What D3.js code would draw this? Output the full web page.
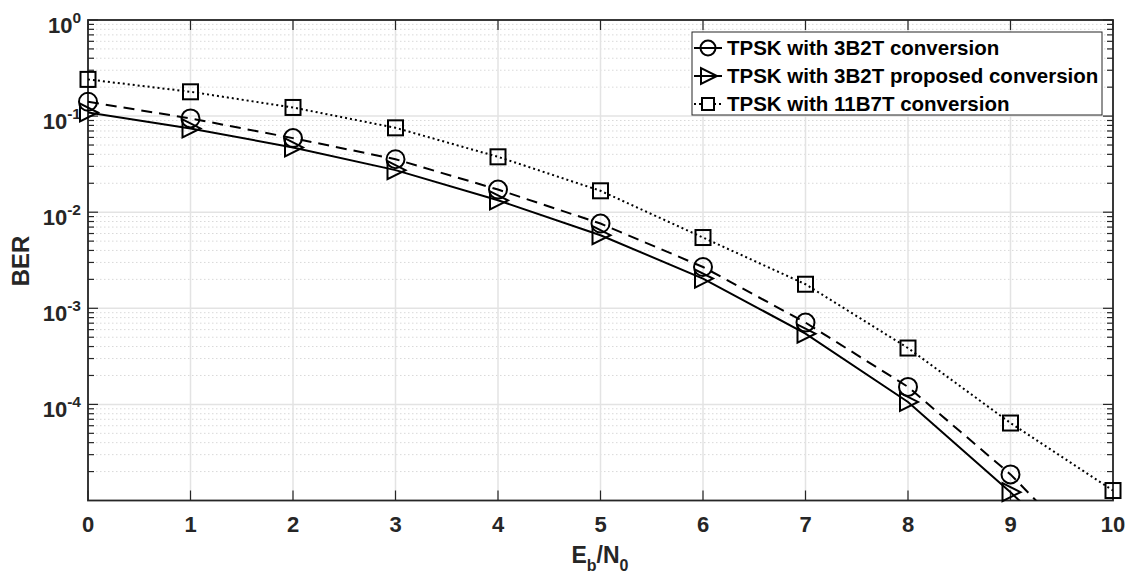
<!DOCTYPE html>
<html><head><meta charset="utf-8">
<script src="https://cdn.jsdelivr.net/npm/d3@7"></script>
<style>body{margin:0;background:#fff;} svg{display:block;font-family:"Liberation Sans",Arial,sans-serif;font-weight:bold;}</style>
</head><body><svg id="c" width="1135" height="580"></svg>
<script>
const ebn0 = [0,1,2,3,4,5,6,7,8,9,10];
const ber3B2T = [0.141,0.0946,0.059,0.0356,0.0172,0.00762,0.00269,0.00071,0.000152,1.87e-5,1.5e-6];
const ber3B2TProposed = [0.109,0.0744,0.0472,0.0274,0.0133,0.00576,0.00204,0.000545,0.000106,1.22e-5,1.2e-6];
const ber11B7T = [0.241,0.179,0.123,0.0755,0.0377,0.0167,0.00545,0.00178,0.000386,6.4e-5,1.27e-5];
const seriesNames = ["TPSK with 3B2T conversion","TPSK with 3B2T proposed conversion","TPSK with 11B7T conversion"];
const xTicks = [0,1,2,3,4,5,6,7,8,9,10];
const yTickExps = [0,-1,-2,-3,-4];

const L=88,R=1113,T=20,B=500.5;
const svg=d3.select("#c");
const x=d3.scaleLinear().domain([0,10]).range([L,R]);
const y=d3.scaleLog().domain([1e-5,1]).range([B,T]);
const axisCol="#262626";

// minor grid
const minors=[];
for(let e=-5;e<0;e++) for(let m=2;m<=9;m++) minors.push(m*Math.pow(10,e));
svg.append("g").selectAll("line").data(minors).join("line")
 .attr("x1",L).attr("x2",R).attr("y1",d=>y(d)).attr("y2",d=>y(d))
 .attr("stroke","#d9d9d9").attr("stroke-width",1).attr("stroke-dasharray","1.5,2.5");
// major grid
svg.append("g").selectAll("line").data(yTickExps).join("line")
 .attr("x1",L).attr("x2",R).attr("y1",d=>y(Math.pow(10,d))).attr("y2",d=>y(Math.pow(10,d)))
 .attr("stroke","#e3e3e3").attr("stroke-width",1.5);
svg.append("g").selectAll("line").data(xTicks).join("line")
 .attr("x1",d=>x(d)).attr("x2",d=>x(d)).attr("y1",T).attr("y2",B)
 .attr("stroke","#e3e3e3").attr("stroke-width",1.5);

// ticks
const tk=svg.append("g").attr("stroke",axisCol).attr("stroke-width",1.2);
xTicks.forEach(t=>{
  tk.append("line").attr("x1",x(t)).attr("x2",x(t)).attr("y1",B).attr("y2",B-10);
  tk.append("line").attr("x1",x(t)).attr("x2",x(t)).attr("y1",T).attr("y2",T+10);
});
yTickExps.forEach(e=>{
  const yy=y(Math.pow(10,e));
  tk.append("line").attr("x1",L).attr("x2",L+10).attr("y1",yy).attr("y2",yy);
  tk.append("line").attr("x1",R).attr("x2",R-10).attr("y1",yy).attr("y2",yy);
});
minors.forEach(v=>{
  const yy=y(v);
  tk.append("line").attr("x1",L).attr("x2",L+6).attr("y1",yy).attr("y2",yy);
  tk.append("line").attr("x1",R).attr("x2",R-6).attr("y1",yy).attr("y2",yy);
});

// axes box
svg.append("rect").attr("x",L).attr("y",T).attr("width",R-L).attr("height",B-T)
 .attr("fill","none").attr("stroke",axisCol).attr("stroke-width",1.8);

// tick labels
svg.append("g").selectAll("text").data(xTicks).join("text")
 .attr("x",d=>x(d)).attr("y",532).attr("text-anchor","middle").style("font-size","22px").attr("fill",axisCol).text(d=>d);
const yl=svg.append("g");
yTickExps.forEach(e=>{
  const yy=y(Math.pow(10,e));
  const t=yl.append("text").attr("x",81).attr("y",yy+13).attr("text-anchor","end").attr("fill",axisCol).style("font-size","22px");
  t.append("tspan").text("10");
  t.append("tspan").style("font-size","15.5px").attr("dy",-10.5).text(e);
});

// axis labels
svg.append("text").attr("transform","translate(29,261) rotate(-90)").attr("text-anchor","middle")
 .style("font-size","24px").attr("fill",axisCol).text("BER");
const xl=svg.append("text").attr("x",600).attr("y",563).attr("text-anchor","middle").style("font-size","23px").attr("fill",axisCol);
xl.append("tspan").text("E");
xl.append("tspan").style("font-size","16px").attr("dy",8).text("b");
xl.append("tspan").attr("dy",-8).text("/N");
xl.append("tspan").style("font-size","16px").attr("dy",8).text("0");

// data
svg.append("defs").append("clipPath").attr("id","clip").append("rect").attr("x",L).attr("y",T).attr("width",R-L).attr("height",B-T);
const series=[
 {vals:ber3B2T,dash:"11,7",marker:"circle"},
 {vals:ber3B2TProposed,dash:null,marker:"tri"},
 {vals:ber11B7T,dash:"2,3",marker:"square"}
];
const line=d3.line().x((d,i)=>x(ebn0[i])).y(d=>y(d));
const gl=svg.append("g").attr("clip-path","url(#clip)");
series.forEach(s=>{
  gl.append("path").attr("d",line(s.vals)).attr("fill","none").attr("stroke","#000").attr("stroke-width",2)
   .attr("stroke-dasharray",s.dash);
});
function drawMarker(g,type,cx,cy){
  if(type==="circle") g.append("circle").attr("cx",cx).attr("cy",cy).attr("r",9);
  else if(type==="square") g.append("rect").attr("x",cx-7.5).attr("y",cy-7.5).attr("width",15).attr("height",15);
  else g.append("path").attr("d",`M${cx-8},${cy-9}L${cx-8},${cy+9}L${cx+10},${cy}Z`);
}
const gm=svg.append("g").attr("fill","none").attr("stroke","#000").attr("stroke-width",2);
series.forEach(s=>{
  s.vals.forEach((v,i)=>{ if(v>=1e-5) drawMarker(gm,s.marker,x(ebn0[i]),y(v)); });
});

// legend
const lg=svg.append("g");
lg.append("rect").attr("x",692).attr("y",32).attr("width",410).attr("height",83).attr("fill","#fff").attr("stroke",axisCol).attr("stroke-width",1);
series.forEach((s,i)=>{
  const cy=48+i*28;
  lg.append("line").attr("x1",694).attr("x2",722).attr("y1",cy).attr("y2",cy).attr("stroke","#000").attr("stroke-width",2).attr("stroke-dasharray",i===2?"2,3":null);
  const mg=lg.append("g").attr("fill","none").attr("stroke","#000").attr("stroke-width",2);
  if(s.marker==="circle") mg.append("circle").attr("cx",708).attr("cy",cy).attr("r",7.5);
  else if(s.marker==="square") mg.append("rect").attr("x",702).attr("y",cy-6).attr("width",12).attr("height",12).attr("fill","#fff");
  else mg.append("path").attr("d",`M${701},${cy-8}L${701},${cy+8}L${717},${cy}Z`);
  lg.append("text").attr("x",727).attr("y",cy+7).style("font-size","20.5px").attr("fill","#000").text(seriesNames[i]);
});
</script></body></html>
